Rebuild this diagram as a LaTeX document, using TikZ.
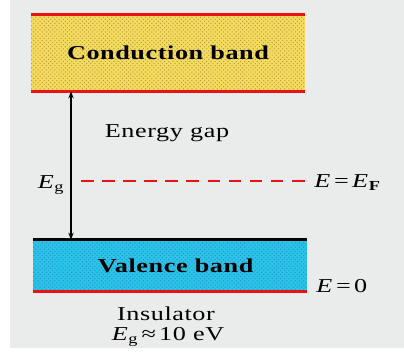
\documentclass[tikz,border=0pt]{standalone}
\usepackage{fontspec}
\setmainfont{Liberation Serif}[FakeStretch=1.33, LetterSpace=3]
\usetikzlibrary{patterns,arrows.meta}

\definecolor{bgGrey}{RGB}{233,236,234}
\definecolor{cbYellow}{RGB}{243,220,95}
\definecolor{cbDot}{RGB}{185,155,60}
\definecolor{vbCyan}{RGB}{45,195,232}
\definecolor{vbDot}{RGB}{25,150,205}
\definecolor{bandRed}{RGB}{232,20,20}

\tikzset{
  lbl/.style={font=\fontsize{14}{16}\selectfont, inner sep=0pt},
  bandbox/.style={minimum width=6.85cm, inner sep=0pt, font=\fontsize{14}{16}\selectfont\bfseries},
  edge/.style={line width=1.9pt}
}

\begin{document}
\begin{tikzpicture}[x=0.025cm,y=-0.025cm]
  \useasboundingbox (0,0) rectangle (404,361);
  \fill[bgGrey] (10,0) rectangle (404,348);

  % Bands
  \node[bandbox, minimum height=1.9cm, preaction={fill=cbYellow},
        pattern=crosshatch dots, pattern color=cbDot] (cb) at (168,53) {Conduction band};
  \node[bandbox, minimum height=1.275cm, preaction={fill=vbCyan},
        pattern=crosshatch dots, pattern color=vbDot] (vb) at (170,265.5) {\hspace*{8pt}Valence band};

  \draw[edge, bandRed] (cb.north west) -- (cb.north east);
  \draw[edge, bandRed] (cb.south west) -- (cb.south east);
  \draw[edge, black] (vb.north west) -- (vb.north east);
  \draw[edge, bandRed] (vb.south west) -- (vb.south east);

  % Gap arrow
  \coordinate (gx) at (71,0);
  \draw[{Stealth[length=5pt]}-{Stealth[length=5pt]}, line width=0.9pt] (cb.south -| gx) -- (vb.north -| gx);

  % Fermi level
  \coordinate (efL) at (81,181);
  \draw[bandRed, dashed, dash pattern=on 9pt off 6pt, thick] (efL) -- (efL -| cb.east);

  % Labels
  \node[lbl] (gap) at (167,133) {Energy gap};
  \node[lbl] (eg) at (51,185) {\textit{E}\textsubscript{g}};
  \node[lbl, anchor=west] (ef) at (314,183) {\textit{E}\,=\,\textit{E}\textsubscript{\textbf{F}}};
  \node[lbl, anchor=west] (ezero) at (316,286) {\textit{E}\,=\,0};
  \node[lbl] (ins) at (166,314) {Insulator};
  \node[lbl] (egval) at (168,337) {\textit{E}\textsubscript{g}\,≈\,10 eV};
\end{tikzpicture}
\end{document}
